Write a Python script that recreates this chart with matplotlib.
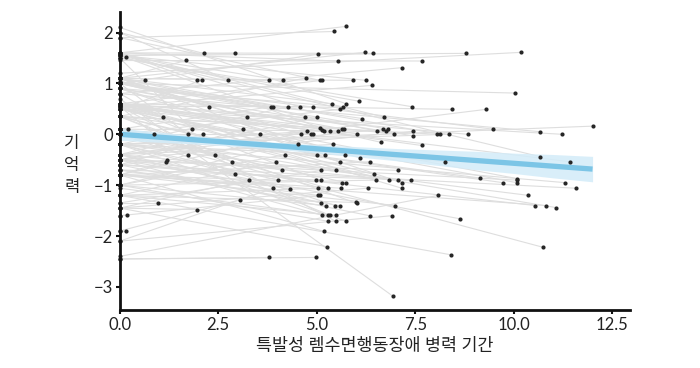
import matplotlib
matplotlib.use("Agg")
import matplotlib.pyplot as plt
import numpy as np

plt.rcParams['font.family'] = ['Lato', 'Noto Sans CJK KR', 'DejaVu Sans']

# follow-up time (years since diagnosis) and memory z-score at follow-up
fu_years = [5.75, 5.44, 2.13, 2.92, 1.68, 5.02, 5.53, 0.15, 6.22, 6.44,
            8.80, 10.19, 7.67, 7.17, 0.63, 1.96, 2.08, 2.76, 3.80, 4.15,
            4.74, 5.08, 5.14, 5.91, 6.25, 6.39, 10.03, 6.07, 2.26, 3.83,
            3.88, 4.27, 4.57, 4.91, 5.39, 5.58, 5.67, 5.75, 7.43, 8.43,
            9.30, 1.09, 3.24, 4.70, 5.01, 6.15, 6.70, 0.22, 1.84, 3.14,
            0.87, 1.73, 2.12, 3.55, 4.60, 4.75, 4.85, 4.90, 5.08, 5.13,
            5.18, 5.33, 5.55, 5.63, 5.69, 6.02, 6.54, 6.67, 6.75, 6.81,
            6.97, 7.44, 7.44, 8.05, 8.14, 8.36, 8.83, 9.48, 10.67, 11.22,
            12.00, 4.53, 5.41, 6.64, 7.66, 1.73, 2.42, 4.20, 5.01, 5.21,
            5.73, 6.09, 10.67, 1.18, 1.21, 2.84, 3.97, 5.60, 6.35, 8.25,
            11.42, 2.92, 4.12, 5.12, 5.50, 7.06, 6.46, 9.14, 10.08, 3.27,
            4.02, 4.99, 5.10, 5.63, 5.75, 6.51, 6.83, 7.05, 7.16, 7.38,
            9.72, 10.07, 10.07, 11.30, 3.89, 4.33, 5.03, 5.29, 5.62, 6.29,
            7.16, 11.58, 0.98, 1.97, 3.05, 5.03, 5.09, 5.12, 5.23, 5.47,
            5.58, 5.99, 6.02, 6.99, 8.09, 10.37, 10.55, 10.82, 11.07, 5.14,
            5.28, 5.33, 5.48, 6.34, 6.90, 8.63, 5.29, 5.48, 5.75, 5.19,
            5.27, 3.80, 4.99, 10.74, 8.42, 6.93, 0.19, 0.15]

fu_memory = [2.12, 2.02, 1.59, 1.59, 1.45, 1.57, 1.44, 1.52, 1.61, 1.59,
             1.59, 1.61, 1.44, 1.31, 1.06, 1.06, 1.06, 1.06, 1.06, 1.06,
             1.11, 1.06, 1.06, 1.06, 1.06, 0.96, 0.81, 0.65, 0.54, 0.54,
             0.54, 0.54, 0.54, 0.54, 0.60, 0.49, 0.54, 0.60, 0.54, 0.49,
             0.49, 0.33, 0.33, 0.33, 0.33, 0.31, 0.34, 0.10, 0.10, 0.10,
             0.00, 0.00, 0.00, 0.00, 0.00, 0.06, 0.00, 0.00, 0.12, 0.08,
             0.06, 0.06, 0.06, 0.10, 0.10, 0.01, 0.06, 0.10, 0.06, 0.10,
             0.01, 0.06, -0.03, 0.00, 0.00, 0.00, 0.00, 0.10, 0.05, 0.00,
             0.16, -0.20, -0.20, -0.16, -0.22, -0.40, -0.40, -0.40, -0.40, -0.40,
             -0.41, -0.46, -0.44, -0.54, -0.51, -0.54, -0.54, -0.54, -0.54, -0.54,
             -0.54, -0.78, -0.71, -0.71, -0.71, -0.71, -0.79, -0.86, -0.87, -0.90,
             -0.90, -0.90, -0.90, -0.95, -0.95, -0.90, -0.90, -0.90, -0.95, -0.90,
             -0.95, -0.90, -0.95, -0.95, -1.06, -1.08, -1.06, -1.06, -1.06, -1.06,
             -1.06, -1.06, -1.35, -1.48, -1.29, -1.20, -1.20, -1.35, -1.40, -1.40,
             -1.40, -1.34, -1.36, -1.40, -1.20, -1.20, -1.40, -1.40, -1.44, -1.59,
             -1.59, -1.59, -1.59, -1.60, -1.60, -1.66, -1.71, -1.71, -1.71, -1.91,
             -2.21, -2.42, -2.42, -2.22, -2.37, -3.18, -1.59, -1.91]

# memory z-score at baseline (time 0)
base_memory = [1.60, 1.90, 2.00, 1.55, 1.10, 1.00, 1.60, 1.55, 1.10, 1.60,
               1.55, 1.20, 1.45, 0.80, 1.00, 1.60, 0.50, 2.00, 1.10, 1.55,
               0.35, 1.90, 0.60, 1.10, 1.55, 0.55, 1.00, 1.50, 1.10, 0.10,
               1.00, -0.20, 1.60, 0.55, 1.10, 0.00, 0.90, 2.10, 1.50, 0.60,
               -0.40, 0.80, 1.05, 0.60, -0.50, 1.00, 1.60, 0.10, 1.50, -0.60,
               0.55, 1.00, -0.40, 0.35, 1.10, -0.80, 0.60, 0.00, 1.00, -0.20,
               0.50, 1.55, -1.00, 0.35, 0.90, 0.60, 1.10, -0.40, 0.10, 1.00,
               0.55, -0.50, 0.90, 0.35, 1.10, -0.20, 0.60, 1.00, 0.80, 0.50,
               -0.20, 0.50, -0.40, 1.00, 0.60, -0.80, 0.10, -1.00, 0.55, 1.10,
               -0.20, 0.90, 1.55, -0.50, -0.60, 0.35, -1.20, 0.60, -0.80, 0.00,
               0.55, -0.20, 0.10, -1.35, 0.35, -0.50, 0.50, 0.10, 0.60, -1.45,
               -0.20, -0.60, 0.55, -0.80, 0.00, -1.00, 0.35, -0.40, 0.90, -0.70,
               0.10, -0.50, 0.50, -0.20, -2.10, -0.50, -1.20, 0.10, -0.80, -1.45,
               0.60, -0.60, -1.35, -1.45, -1.90, -0.70, -1.60, -0.40, -1.00, 0.00,
               -0.70, -1.20, 0.35, -0.80, -2.40, -0.20, -0.50, -0.80, 0.00, -0.50,
               -1.06, 0.10, -1.20, -0.60, -2.10, -0.40, -1.00, 0.55, -0.20, -0.80,
               -1.45, -2.45, -2.45, 0.00, -1.20, 0.70, -1.60, -1.90]

# fitted trend and its confidence half-width
fit_intercept = 0.0
fit_slope = -0.057
band_x = [0, 1, 2, 3, 4, 5, 6, 7, 8, 9, 10, 11, 12]
band_half = [0.12, 0.10, 0.08, 0.07, 0.07, 0.08, 0.10, 0.12, 0.15, 0.18, 0.20, 0.23, 0.25]

x_ticks = [0.0, 2.5, 5.0, 7.5, 10.0, 12.5]
x_ticklabels = ['0.0', '2.5', '5.0', '7.5', '10.0', '12.5']
y_ticks = [-3, -2, -1, 0, 1, 2]
x_label = '특발성 렘수면행동장애 병력 기간'
y_label = '기\n억\n력'

fig = plt.figure(figsize=(7.0, 3.68), dpi=100)
ax = fig.add_axes([0.171, 0.158, 0.729, 0.809])

# subject trajectories
for x1, y0, y1 in zip(fu_years, base_memory, fu_memory):
    ax.plot([0, x1], [y0, y1], color='#dedede', lw=0.8, zorder=1, solid_capstyle='round')

# regression band and line
bx = np.array(band_x, dtype=float)
by = fit_intercept + fit_slope * bx
bh = np.array(band_half)
ax.fill_between(bx, by - bh, by + bh, color='#d3ecf9', alpha=0.85, lw=0, zorder=2)
ax.plot(bx, by, color='#7cc5e6', lw=3.8, zorder=3, solid_capstyle='butt')

# points
ax.scatter(fu_years, fu_memory, s=9, color='#262626', zorder=4, lw=0)
ax.scatter(np.zeros(len(base_memory)), base_memory, s=9, color='#262626', zorder=5,
           lw=0, clip_on=False)

ax.set_xlim(0, 12.95)
ax.set_ylim(-3.45, 2.4)
ax.set_xticks(x_ticks)
ax.set_xticklabels(x_ticklabels)
ax.set_yticks(y_ticks)

for s in ['top', 'right']:
    ax.spines[s].set_visible(False)
for s in ['left', 'bottom']:
    ax.spines[s].set_linewidth(2.0)
    ax.spines[s].set_color('#111111')
    ax.spines[s].set_zorder(6)

ax.tick_params(axis='both', length=3, width=1.5, labelsize=12, pad=2, colors='#111111')
ax.tick_params(axis='both', labelcolor='#222222')

ax.set_xlabel(x_label, fontsize=12.5, labelpad=4, color='#222222')
fig.text(0.103, 0.552, y_label, fontsize=12, ha='center', va='center',
         linespacing=1.45, color='#222222')

fig.savefig('out.png', dpi=100, facecolor='white')
